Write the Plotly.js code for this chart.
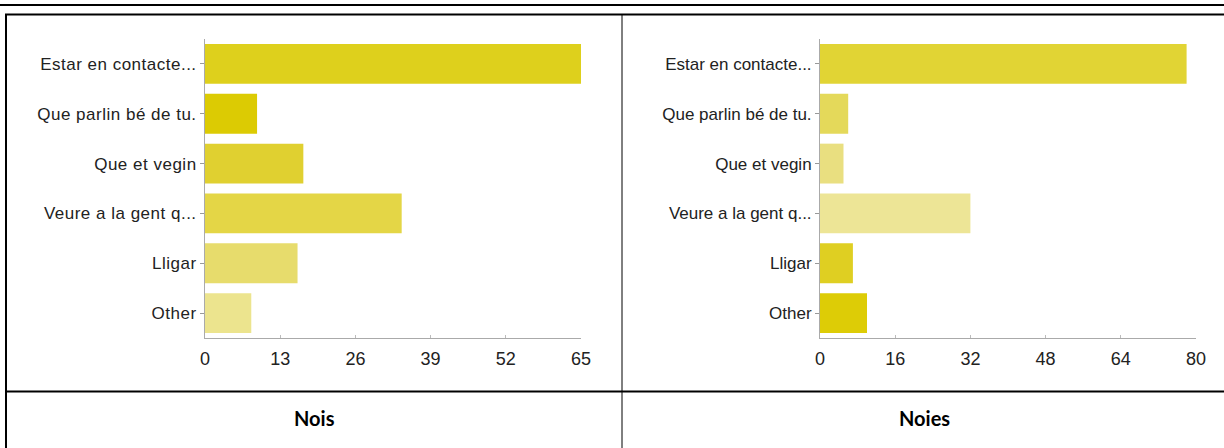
<!DOCTYPE html>
<html>
<head>
<meta charset="utf-8">
<script src="https://cdn.plot.ly/plotly-3.0.1.min.js"></script>
<style>
  html, body { margin: 0; padding: 0; background: #fff; }
  #chart { width: 1224px; height: 448px; }
  #chart .ytick text { letter-spacing: 0.5px; }
</style>
</head>
<body>
<div id="chart"></div>
<script>
// ---- Data ----
const categories = [
  "Estar en contacte...",
  "Que parlin bé de tu.",
  "Que et vegin",
  "Veure a la gent q...",
  "Lligar",
  "Other"
];
const noisValues  = [65, 9, 17, 34, 16, 8];
const noiesValues = [78, 6, 5, 32, 7, 10];
const noisColors  = ["#ded01c", "#dccb03", "#e0d030", "#e4d646", "#e7dc6c", "#ece48e"];
const noiesColors = ["#e1d434", "#e4d95a", "#e9df80", "#ede596", "#dfcf22", "#ddcc06"];
const noisTicks  = [0, 13, 26, 39, 52, 65];
const noiesTicks = [0, 16, 32, 48, 64, 80];
const cellTitles = ["Nois", "Noies"];

// ---- Layout helpers (pixel -> paper) ----
const W = 1224, H = 448;
const px = x => x / W;
const py = y => 1 - y / H;

const traces = [
  {
    type: "bar", orientation: "h",
    y: categories, x: noisValues,
    marker: { color: noisColors },
    xaxis: "x", yaxis: "y",
    hoverinfo: "x+y"
  },
  {
    type: "bar", orientation: "h",
    y: categories, x: noiesValues,
    marker: { color: noiesColors },
    xaxis: "x2", yaxis: "y2",
    hoverinfo: "x+y"
  }
];

const tickFont = { family: "Liberation Sans, Arial, sans-serif", size: 17, color: "#222" };
const xTickFont = { family: "Liberation Sans, Arial, sans-serif", size: 18, color: "#222" };

function xAxis(domain, ticks, anchor) {
  return {
    domain: domain,
    range: [0, ticks[ticks.length - 1]],
    tickvals: ticks,
    ticktext: ticks.map(String),
    showgrid: false,
    zeroline: false,
    showline: true,
    linecolor: "#aaaaaa",
    linewidth: 1,
    ticks: "inside",
    ticklen: 3,
    tickcolor: "#bbbbbb",
    ticklabelstandoff: 4,
    tickfont: xTickFont,
    anchor: anchor,
    fixedrange: true
  };
}
function yAxis(domain, anchor) {
  return {
    domain: domain,
    type: "category",
    categoryorder: "array",
    categoryarray: categories,
    range: [5.5, -0.5],
    showgrid: false,
    zeroline: false,
    showline: true,
    linecolor: "#aaaaaa",
    linewidth: 1,
    ticks: "outside",
    ticklen: 4,
    tickcolor: "#999999",
    tickfont: tickFont,
    anchor: anchor,
    fixedrange: true
  };
}

const yDom = [py(338), py(39)];

const lineStyle = (w) => ({ color: "#000", width: w });
const shapes = [
  { type: "line", xref: "paper", yref: "paper", x0: 0, x1: 1, y0: py(5), y1: py(5), line: lineStyle(2) },
  { type: "line", xref: "paper", yref: "paper", x0: px(5), x1: 1, y0: py(14.5), y1: py(14.5), line: lineStyle(2) },
  { type: "line", xref: "paper", yref: "paper", x0: px(6), x1: px(6), y0: py(14), y1: 0, line: lineStyle(2) },
  { type: "line", xref: "paper", yref: "paper", x0: px(622), x1: px(622), y0: py(14), y1: 0, line: lineStyle(1) },
  { type: "line", xref: "paper", yref: "paper", x0: px(5), x1: 1, y0: py(391.5), y1: py(391.5), line: lineStyle(2) }
];

const titleFont = { family: "Lato, 'Open Sans', sans-serif", size: 20, color: "#000", weight: "bold" };
const annotations = [
  { xref: "paper", yref: "paper", x: px(314), y: py(418), text: "<b>" + cellTitles[0] + "</b>", showarrow: false, font: titleFont, xanchor: "center", yanchor: "middle" },
  { xref: "paper", yref: "paper", x: px(924), y: py(418), text: "<b>" + cellTitles[1] + "</b>", showarrow: false, font: titleFont, xanchor: "center", yanchor: "middle" }
];

const layout = {
  width: W, height: H,
  margin: { l: 0, r: 0, t: 0, b: 0 },
  paper_bgcolor: "#ffffff",
  plot_bgcolor: "#ffffff",
  showlegend: false,
  bargap: 0.2,
  xaxis:  xAxis([px(205), px(581)], noisTicks, "y"),
  yaxis:  yAxis(yDom, "x"),
  xaxis2: xAxis([px(820), px(1196)], noiesTicks, "y2"),
  yaxis2: yAxis(yDom, "x2"),
  shapes: shapes,
  annotations: annotations
};

Plotly.newPlot("chart", traces, layout, { displayModeBar: false, staticPlot: true });
</script>
</body>
</html>
